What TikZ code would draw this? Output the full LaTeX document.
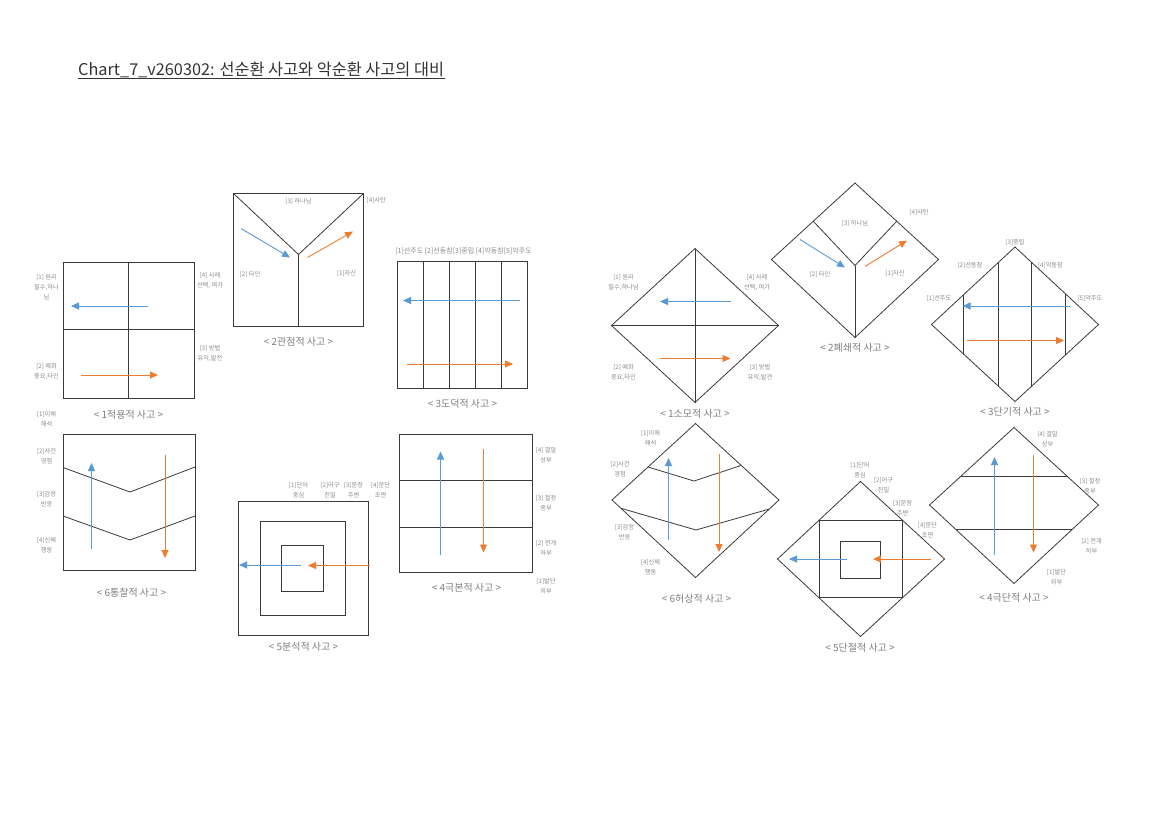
\documentclass[tikz,border=0pt]{standalone}
\usepackage{fontspec}
\setmainfont{Noto Sans CJK KR}
\usetikzlibrary{arrows.meta,calc}
\definecolor{lnc}{HTML}{3A3A3A}
\definecolor{bluec}{HTML}{5B9BD5}
\definecolor{orgc}{HTML}{ED7D31}
\definecolor{lblc}{HTML}{8C8C8C}
\definecolor{capc}{HTML}{7F7F7F}
\definecolor{titc}{HTML}{333333}
\begin{document}
\begin{tikzpicture}[x=1pt,y=-1pt,
 ln/.style={draw=lnc,line width=0.8pt},
 barrow/.style={draw=bluec,line width=0.9pt,-{Triangle[length=8pt,width=7pt]}},
 oarrow/.style={draw=orgc,line width=0.9pt,-{Triangle[length=8pt,width=7pt]}},
 lbl/.style={font=\fontsize{6.2}{10}\selectfont,text=lblc,align=center,inner sep=0pt},
 toplbl/.style={font=\fontsize{7}{10}\selectfont,text=lblc,inner sep=0pt},
 captext/.style={font=\fontsize{10}{12}\selectfont,text=capc,inner sep=0pt},
]
\fill[white] (0,0) rectangle (1152,814);
\useasboundingbox (0,0) rectangle (1152,814);

% title
\node[anchor=base west,font=\fontsize{16.3}{18}\selectfont,text=titc,inner sep=0pt] (title) at (78,75.5) {Chart\_7\_v260302: 선순환 사고와 악순환 사고의 대비};
\draw[titc,line width=0.8pt] ([yshift=-3pt]title.base west) -- ([yshift=-3pt,xshift=1pt]title.base east);

% ===== LEFT 1 적용적 =====
\draw[ln] (63,262) rectangle (194,398);
\draw[ln] (128.5,262) -- (128.5,398);
\draw[ln] (63,329) -- (194,329);
\coordinate (A1bs) at (148,306); \coordinate (A1be) at (71,306);
\coordinate (A1os) at (81,375); \coordinate (A1oe) at (158,375);
\draw[barrow] (A1bs) -- (A1be);
\draw[oarrow] (A1os) -- (A1oe);
\node[lbl] (A1l1) at (46.5,287) {[1] 원리\\필수,하나\\님};
\node[lbl] (A1l4) at (210,280.5) {[4] 사례\\선택, 여가};
\node[lbl] (A1l3) at (210,353.5) {[3] 방법\\유익,발전};
\node[lbl] (A1l2) at (46.5,372) {[2] 예화\\중요,타인};
\node[captext] (A1c) at (128.5,414.5) {< 1적용적 사고 >};

% ===== LEFT 2 관점적 =====
\coordinate (A2c) at (298.5,254.5);
\draw[ln] (233.5,193.5) rectangle (363.5,326);
\draw[ln] (233.5,193.5) -- (A2c) -- (363.5,193.5);
\draw[ln] (A2c) -- (298.5,326);
\coordinate (A2bs) at (241,228.5); \coordinate (A2be) at (290,257.5);
\coordinate (A2os) at (307.5,257.5); \coordinate (A2oe) at (353,231.5);
\draw[barrow] (A2bs) -- (A2be);
\draw[oarrow] (A2os) -- (A2oe);
\node[lbl] (A2l3) at (298.5,201.5) {[3] 하나님};
\node[lbl,anchor=west] (A2l4) at (366.5,200) {[4]사탄};
\node[lbl] (A2l2) at (250,274) {[2] 타인};
\node[lbl] (A2l1) at (346.5,273.5) {[1]자신};
\node[captext] (A2cap) at (298.5,341.5) {< 2관점적 사고 >};

% ===== LEFT 3 도덕적 =====
\draw[ln] (397.5,261) rectangle (527.5,388.5);
\foreach \xx in {423.5,449.5,475.5,501.5} \draw[ln] (\xx,261) -- (\xx,388.5);
\coordinate (A3bs) at (520,300.5); \coordinate (A3be) at (403,300.5);
\coordinate (A3os) at (406.5,364); \coordinate (A3oe) at (513,364);
\draw[barrow] (A3bs) -- (A3be);
\draw[oarrow] (A3os) -- (A3oe);
\node[toplbl] (A3top) at (463.5,251.5) {[1]선주도 [2]선동참[3]중립 [4]악동참[5]악주도};
\node[captext] (A3cap) at (462.5,403.5) {< 3도덕적 사고 >};

% ===== LEFT 6 통찰적 =====
\draw[ln] (63,434) rectangle (195,570);
\draw[ln] (63,467.5) -- (130,492) -- (195,467);
\draw[ln] (63,516) -- (130,540) -- (195,516);
\coordinate (A6bs) at (91.5,549); \coordinate (A6be) at (91.5,463);
\coordinate (A6os) at (165,455); \coordinate (A6oe) at (165,558);
\draw[barrow] (A6bs) -- (A6be);
\draw[oarrow] (A6os) -- (A6oe);
\node[lbl] (A6l1) at (46.5,419) {[1]이해\\해석};
\node[lbl] (A6l2) at (46.5,456) {[2]사건\\경험};
\node[lbl] (A6l3) at (46.5,499) {[3]감정\\반응};
\node[lbl] (A6l4) at (46.5,545) {[4]신체\\행동};
\node[captext] (A6cap) at (131.5,592.5) {< 6통찰적 사고 >};

% ===== LEFT 5 분석적 =====
\draw[ln] (238.5,501) rectangle (368.5,635);
\draw[ln] (260,521.5) rectangle (345,615);
\draw[ln] (281.5,545.5) rectangle (323.5,591);
\coordinate (A5bs) at (300.5,565); \coordinate (A5be) at (239,565);
\coordinate (A5os) at (370,565.5); \coordinate (A5oe) at (308,565.5);
\draw[barrow] (A5bs) -- (A5be);
\draw[oarrow] (A5os) -- (A5oe);
\node[lbl] (A5l1) at (298.5,490) {[1]단어\\중심};
\node[lbl] (A5l2) at (330,490) {[2]어구\\친밀};
\node[lbl] (A5l3) at (353.5,490) {[3]문장\\주변};
\node[lbl] (A5l4) at (380.5,490) {[4]문단\\초면};
\node[captext] (A5cap) at (303.5,646.5) {< 5분석적 사고 >};

% ===== LEFT 4 극본적 =====
\draw[ln] (399.5,434.5) rectangle (532.5,572.5);
\draw[ln] (399.5,480) -- (532.5,480);
\draw[ln] (399.5,527.5) -- (532.5,527.5);
\coordinate (A4bs) at (440.5,554.5); \coordinate (A4be) at (440.5,451.5);
\coordinate (A4os) at (483.5,449); \coordinate (A4oe) at (483.5,552.5);
\draw[barrow] (A4bs) -- (A4be);
\draw[oarrow] (A4os) -- (A4oe);
\node[lbl] (A4l4) at (546,455) {[4] 결말\\상부};
\node[lbl] (A4l3) at (546,503) {[3] 절정\\중부};
\node[lbl] (A4l2) at (546,548) {[2] 전개\\하부};
\node[lbl] (A4l1) at (546,586) {[1]발단\\외부};
\node[captext] (A4cap) at (466.5,587.5) {< 4극본적 사고 >};

% ===== RIGHT 1 소모적 =====
\coordinate (R1T) at (695,248.5); \coordinate (R1L) at (611.5,325.5);
\coordinate (R1R) at (778.5,325.5); \coordinate (R1B) at (695,402.5);
\draw[ln] (R1T) -- (R1R) -- (R1B) -- (R1L) -- cycle;
\draw[ln] (R1T) -- (R1B);
\draw[ln] (R1L) -- (R1R);
\coordinate (R1bs) at (730.5,301.5); \coordinate (R1be) at (660,301.5);
\coordinate (R1os) at (660,358.5); \coordinate (R1oe) at (730.5,358.5);
\draw[barrow] (R1bs) -- (R1be);
\draw[oarrow] (R1os) -- (R1oe);
\node[lbl] (R1l1) at (623.5,282.5) {[1] 원리\\필수,하나님};
\node[lbl] (R1l4) at (757,282.5) {[4] 사례\\선택, 여가};
\node[lbl] (R1l2) at (623.5,372.5) {[2] 예화\\중요,타인};
\node[lbl] (R1l3) at (760,372.5) {[3] 방법\\유익,발견};
\node[captext] (R1cap) at (695,413.5) {< 1소모적 사고 >};

% ===== RIGHT 2 폐쇄적 =====
\coordinate (R2T) at (855,183); \coordinate (R2L) at (771.5,259.5);
\coordinate (R2R) at (938.5,259.5); \coordinate (R2B) at (855,337.5);
\coordinate (R2C) at (855,265.5);
\draw[ln] (R2T) -- (R2R) -- (R2B) -- (R2L) -- cycle;
\draw[ln] ($(R2T)!0.5!(R2L)$) -- (R2C) -- ($(R2T)!0.5!(R2R)$);
\draw[ln] (R2C) -- (R2B);
\coordinate (R2bs) at (800,239.5); \coordinate (R2be) at (845,267.5);
\coordinate (R2os) at (865,266.5); \coordinate (R2oe) at (907,240.5);
\draw[barrow] (R2bs) -- (R2be);
\draw[oarrow] (R2os) -- (R2oe);
\node[lbl] (R2l3) at (855,223) {[3] 하나님};
\node[lbl] (R2l4) at (919,212.5) {[4]사탄};
\node[lbl] (R2l2) at (820,274.5) {[2] 타인};
\node[lbl] (R2l1) at (895,273) {[1]자신};
\node[captext] (R2cap) at (855,348) {< 2폐쇄적 사고 >};

% ===== RIGHT 3 단기적 =====
\coordinate (R3T) at (1015,247); \coordinate (R3L) at (931.5,324.5);
\coordinate (R3R) at (1098.5,324.5); \coordinate (R3B) at (1015,401.5);
\draw[ln] (R3T) -- (R3R) -- (R3B) -- (R3L) -- cycle;
\draw[ln] (963.5,295) -- (963.5,354);
\draw[ln] (998,263.2) -- (998,385.8);
\draw[ln] (1031,262.3) -- (1031,386.7);
\draw[ln] (1065.5,294.1) -- (1065.5,354.9);
\coordinate (R3bs) at (1070,306); \coordinate (R3be) at (962.5,306);
\coordinate (R3os) at (966.5,340.5); \coordinate (R3oe) at (1064,340.5);
\draw[barrow] (R3bs) -- (R3be);
\draw[oarrow] (R3os) -- (R3oe);
\node[lbl] (R3l3) at (1015,242.5) {[3]중립};
\node[lbl] (R3l2) at (970,265.5) {[2]선동참};
\node[lbl] (R3l4) at (1050.5,265.5) {[4]악동참};
\node[lbl] (R3l1) at (939,298) {[1]선주도};
\node[lbl] (R3l5) at (1090,298) {[5]악주도};
\node[captext] (R3cap) at (1015,412) {< 3단기적 사고 >};

% ===== RIGHT 6 허상적 =====
\coordinate (R6T) at (695.5,423.5); \coordinate (R6L) at (612,500);
\coordinate (R6R) at (779,500); \coordinate (R6B) at (695.5,577.5);
\draw[ln] (R6T) -- (R6R) -- (R6B) -- (R6L) -- cycle;
\draw[ln] (648,467) -- (694,481) -- (741,465.5);
\draw[ln] (621,508.3) -- (696,530) -- (769.5,509);
\coordinate (R6bs) at (668.5,540); \coordinate (R6be) at (668.5,458);
\coordinate (R6os) at (719,453.5); \coordinate (R6oe) at (719,552);
\draw[barrow] (R6bs) -- (R6be);
\draw[oarrow] (R6os) -- (R6oe);
\node[lbl] (R6l1) at (650.5,438.5) {[1]이해\\해석};
\node[lbl] (R6l2) at (620,469) {[2]사건\\경험};
\node[lbl] (R6l3) at (624.5,532) {[3]감정\\반응};
\node[lbl] (R6l4) at (650.5,567) {[4]신체\\행동};
\node[captext] (R6cap) at (696.5,598.5) {< 6허상적 사고 >};

% ===== RIGHT 5 단절적 =====
\coordinate (R5T) at (860.5,481.5); \coordinate (R5L) at (777.5,559);
\coordinate (R5R) at (944.5,559); \coordinate (R5B) at (860.5,636.5);
\draw[ln] (R5T) -- (R5R) -- (R5B) -- (R5L) -- cycle;
\draw[ln] ($(R5T)!0.5!(R5L)$) -- ($(R5T)!0.5!(R5R)$) -- ($(R5B)!0.5!(R5R)$) -- ($(R5B)!0.5!(R5L)$) -- cycle;
\draw[ln] (840.5,541) rectangle (880,578.5);
\coordinate (R5bs) at (846.5,559); \coordinate (R5be) at (789,559);
\coordinate (R5os) at (930.5,559); \coordinate (R5oe) at (873,559);
\draw[barrow] (R5bs) -- (R5be);
\draw[oarrow] (R5os) -- (R5oe);
\node[lbl] (R5l1) at (860,470.5) {[1]단어\\중심};
\node[lbl] (R5l2) at (883.5,485) {[2]어구\\친밀};
\node[lbl] (R5l3) at (902.5,508) {[3]문장\\주변};
\node[lbl] (R5l4) at (927.5,530) {[4]문단\\초면};
\node[captext] (R5cap) at (860,647.5) {< 5단절적 사고 >};

% ===== RIGHT 4 극단적 =====
\coordinate (R4T) at (1014,427.5); \coordinate (R4L) at (929.5,505);
\coordinate (R4R) at (1098.5,505); \coordinate (R4B) at (1014,583.5);
\draw[ln] (R4T) -- (R4R) -- (R4B) -- (R4L) -- cycle;
\draw[ln] (960.6,476.5) -- (1067.4,476.5);
\draw[ln] (955.9,529.5) -- (1072.1,529.5);
\coordinate (R4bs) at (994.5,555); \coordinate (R4be) at (994.5,457);
\coordinate (R4os) at (1033.5,455); \coordinate (R4oe) at (1033.5,552.5);
\draw[barrow] (R4bs) -- (R4be);
\draw[oarrow] (R4os) -- (R4oe);
\node[lbl] (R4l4) at (1047.5,439) {[4] 결말\\상부};
\node[lbl] (R4l3) at (1090,486) {[3] 절정\\중부};
\node[lbl] (R4l2) at (1091.5,546) {[2] 전개\\하부};
\node[lbl] (R4l1) at (1056.5,577) {[1]발단\\외부};
\node[captext] (R4cap) at (1014,597.5) {< 4극단적 사고 >};
\end{tikzpicture}
\end{document}
